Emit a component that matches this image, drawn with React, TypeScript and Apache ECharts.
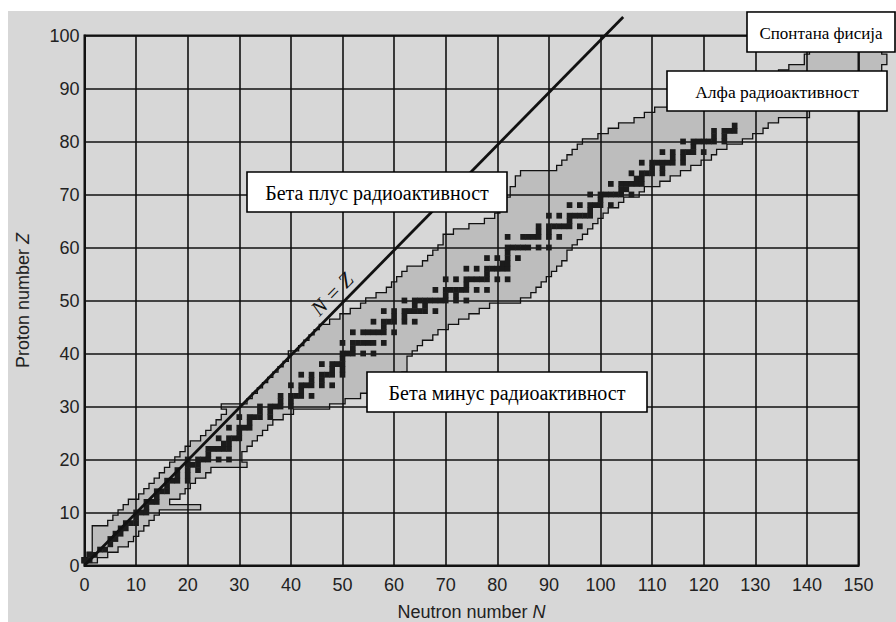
import React, { useEffect, useRef } from "react";
import * as echarts from "echarts";

// Axis ranges
const X_MIN = 0, X_MAX = 150, X_STEP = 10;
const Y_MIN = 0, Y_MAX = 100, Y_STEP = 10;

// Band of known nuclides: for each proton number Z (starting at 1) the lowest and highest neutron number N
const zRows = Array.from({ length: 100 }, (_, i) => i + 1);
const nMin = [
  0, 1, 2, 2, 2, 2, 2, 5, 6, 7, // Z 1-10
  8, 9, 11, 12, 13, 14, 15, 16, 17, 18, // Z 11-20
  19, 20, 21, 23, 24, 25, 26, 27, 28, 27, // Z 21-30
  32, 33, 34, 35, 36, 37, 38, 39, 40, 40, // Z 31-40
  42, 43, 44, 45, 46, 48, 50, 52, 54, 55, // Z 41-50
  57, 59, 60, 61, 62, 63, 66, 67, 68, 69, // Z 51-60
  70, 70, 72, 75, 78, 80, 81, 81, 82, 83, // Z 61-70
  83, 84, 84, 85, 92, 93, 94, 95, 96, 97, // Z 71-80
  100, 102, 104, 107, 109, 111, 114, 117, 120, 124, // Z 81-90
  128, 132, 135, 137, 140, 140, 141, 143, 145, 146, // Z 91-100
];
const nMax = [
  2, 4, 6, 8, 9, 10, 11, 12, 13, 14, // Z 1-10
  22, 16, 18, 19, 20, 21, 23, 24, 31, 30, // Z 11-20
  30, 31, 32, 33, 34, 35, 36, 38, 40, 47, // Z 21-30
  50, 53, 55, 57, 59, 61, 62, 62, 62, 63, // Z 31-40
  64, 65, 67, 68, 70, 72, 74, 76, 78, 84, // Z 41-50
  86, 87, 88, 89, 90, 91, 92, 93, 93, 94, // Z 51-60
  95, 96, 97, 98, 99, 100, 101, 103, 104, 107, // Z 61-70
  108, 111, 113, 115, 117, 119, 121, 122, 124, 127, // Z 71-80
  129, 131, 132, 134, 140, 140, 146, 148, 150, 151, // Z 81-90
  152, 153, 154, 154, 155, 155, 154, 155, 155, 155, // Z 91-100
];

// Stable nuclides (black squares): neutron numbers, listed per proton number Z (index = Z)
const stableByZ: number[][] = [
  [],
  [0, 1], [1, 2], [3, 4], [5], [5, 6], [6, 7], [7, 8], [8, 9, 10], [10], [10, 11, 12],
  [12], [12, 13, 14], [14], [14, 15, 16], [16], [16, 17, 18, 20], [18, 20], [18, 20, 22], [20, 21, 22], [20, 22, 23, 24, 26, 28],
  [24], [24, 25, 26, 27, 28], [27, 28], [26, 28, 29, 30], [30], [28, 30, 31, 32], [32], [30, 32, 33, 34, 36], [34, 36], [34, 36, 37, 38, 40],
  [38, 40], [38, 40, 41, 42, 44], [42], [40, 42, 43, 44, 46, 48], [44, 46], [42, 44, 46, 47, 48, 50], [48, 50], [46, 48, 49, 50], [50], [50, 51, 52, 54, 56],
  [52], [50, 52, 53, 54, 55, 56, 58], [], [52, 54, 55, 56, 57, 58, 60], [58], [56, 58, 59, 60, 62, 64], [60, 62], [58, 60, 62, 63, 64, 65, 66, 68], [64, 66], [62, 64, 65, 66, 67, 68, 69, 70, 72, 74],
  [70, 72], [68, 70, 71, 72, 73, 74, 76, 78], [74], [70, 72, 74, 75, 76, 77, 78, 80, 82], [78], [74, 76, 78, 79, 80, 81, 82], [81, 82], [78, 80, 82, 84], [82], [82, 83, 84, 85, 86, 88, 90],
  [], [82, 85, 86, 87, 88, 90, 92], [88, 90], [88, 90, 91, 92, 93, 94, 96], [94], [90, 92, 94, 95, 96, 97, 98], [98], [94, 96, 98, 99, 100, 102], [100], [98, 100, 101, 102, 103, 104, 106],
  [104, 105], [102, 104, 105, 106, 107, 108], [107, 108], [106, 108, 109, 110, 112], [110, 112], [108, 110, 111, 112, 113, 114, 116], [114, 116], [112, 114, 116, 117, 118, 120], [118], [116, 118, 119, 120, 121, 122, 124],
  [122, 124], [122, 124, 125, 126], [126],
];

// N = Z reference line end points
const diagonal = [
  [0, 0],
  [104.4, 103.5],
];

// Annotation labels
const labels = [
  { text: "Бета плус радиоактивност", box: [247, 172, 260, 40], size: 20 },
  { text: "Алфа радиоактивност", box: [667, 71, 220, 40], size: 17.5 },
  { text: "Спонтана фисија", box: [747, 12, 148, 40], size: 17 },
  { text: "Бета минус радиоактивност", box: [367, 372, 280, 40], size: 20 },
];

const stableData: number[][] = [];
stableByZ.forEach((ns, z) => ns.forEach((n) => stableData.push([n, z])));

export default function App() {
  const ref = useRef<HTMLDivElement>(null);
  useEffect(() => {
    if (!ref.current) return;
    const chart = echarts.init(ref.current, undefined, { renderer: "svg" });
    const serif = '"Liberation Serif", "Times New Roman", serif';
    const sans = '"Liberation Sans", Arial, Helvetica, sans-serif';
    const graphics: any[] = [];
    labels.forEach((l) => {
      const [x, y, w, h] = l.box;
      graphics.push({
        type: "group",
        z: 100,
        children: [
          { type: "rect", shape: { x, y, width: w, height: h }, style: { fill: "#fff", stroke: "#000", lineWidth: 1.6 }, z: 100 },
          {
            type: "text",
            x: x + w / 2,
            y: y + h / 2 + 1,
            z: 101,
            style: { text: l.text, fill: "#000", fontSize: l.size, fontFamily: serif, textAlign: "center", textVerticalAlign: "middle" },
          },
        ],
      });
    });
    graphics.push({
      type: "text",
      x: 332,
      y: 294,
      rotation: 0.8,
      z: 100,
      style: { text: "N = Z", fill: "#111", fontSize: 21, fontStyle: "italic", fontFamily: serif, textAlign: "center", textVerticalAlign: "middle" },
    });

    chart.setOption({
      animation: false,
      backgroundColor: "transparent",
      grid: {
        left: 84.5,
        right: 37.5,
        top: 35.5,
        bottom: 56.5,
        outerBoundsMode: "none",
        containLabel: false,
        show: true,
        borderColor: "#111",
        borderWidth: 2,
        backgroundColor: "transparent",
      },
      xAxis: {
        type: "value",
        min: X_MIN,
        max: X_MAX,
        interval: X_STEP,
        name: "Neutron number {i|N}",
        nameLocation: "middle",
        nameGap: 37,
        nameTextStyle: { fontFamily: sans, fontSize: 18, color: "#222", rich: { i: { fontFamily: sans, fontSize: 18, fontStyle: "italic", color: "#222" } } },
        axisLine: { show: true, onZero: false, lineStyle: { color: "#111", width: 2 } },
        axisTick: { show: false },
        axisLabel: { fontFamily: sans, fontSize: 18, color: "#222", margin: 10 },
        splitLine: { show: true, lineStyle: { color: "#111", width: 1.6 } },
      },
      yAxis: {
        type: "value",
        min: Y_MIN,
        max: Y_MAX,
        interval: Y_STEP,
        name: "Proton number {i|Z}",
        nameLocation: "middle",
        nameGap: 53,
        nameTextStyle: { fontFamily: sans, fontSize: 18, color: "#222", rich: { i: { fontFamily: sans, fontSize: 18, fontStyle: "italic", color: "#222" } } },
        axisLine: { show: true, onZero: false, lineStyle: { color: "#111", width: 2 } },
        axisTick: { show: false },
        axisLabel: { fontFamily: sans, fontSize: 18, color: "#222", margin: 5 },
        splitLine: { show: true, lineStyle: { color: "#111", width: 1.6 } },
      },
      series: [
        {
          type: "custom",
          name: "band",
          clip: false,
          z: 3,
          data: [[zRows[0], nMin[0]]],
          renderItem: (params: any, api: any) => {
            const pts: number[][] = [];
            for (let i = 0; i < zRows.length; i++) {
              pts.push(api.coord([nMax[i] + 0.5, zRows[i] - 0.5]));
              pts.push(api.coord([nMax[i] + 0.5, zRows[i] + 0.5]));
            }
            for (let i = zRows.length - 1; i >= 0; i--) {
              pts.push(api.coord([nMin[i] - 0.5, zRows[i] + 0.5]));
              pts.push(api.coord([nMin[i] - 0.5, zRows[i] - 0.5]));
            }
            return {
              type: "polygon",
              shape: { points: pts },
              style: { fill: "rgba(40,40,40,0.15)", stroke: "#111", lineWidth: 1.3 },
            };
          },
        },
        {
          type: "custom",
          name: "stable",
          clip: false,
          z: 4,
          encode: { x: 0, y: 1 },
          data: stableData,
          renderItem: (params: any, api: any) => {
            const n = api.value(0);
            const z = api.value(1);
            const p0 = api.coord([n - 0.55, z + 0.55]);
            const p1 = api.coord([n + 0.55, z - 0.55]);
            return {
              type: "rect",
              shape: { x: p0[0], y: p0[1], width: p1[0] - p0[0], height: p1[1] - p0[1] },
              style: { fill: "#1b1b1b" },
            };
          },
        },
        {
          type: "line",
          name: "N = Z",
          data: diagonal,
          showSymbol: false,
          clip: false,
          z: 5,
          lineStyle: { color: "#111", width: 2.8 },
        },
      ],
      graphic: graphics,
    });
    return () => chart.dispose();
  }, []);
  return (
    <div style={{ position: "absolute", left: 0, top: 0, width: 896, height: 622, background: "#fff", overflow: "hidden" }}>
      <div style={{ position: "absolute", left: 8, top: 11, right: 0, bottom: 0, background: "#d7d7d7" }} />
      <div ref={ref} style={{ position: "absolute", left: 0, top: 0, width: 896, height: 622 }} />
    </div>
  );
}
